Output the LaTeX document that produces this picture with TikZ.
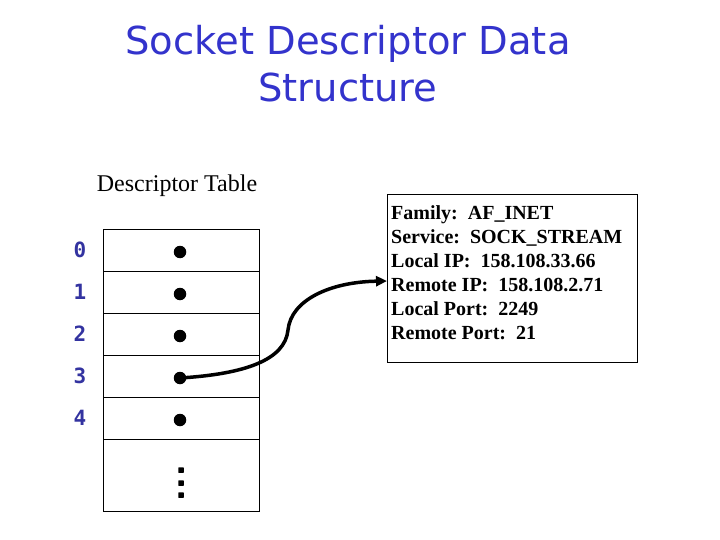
\documentclass[tikz,border=0pt]{standalone}
\usepackage{fontspec}
\usetikzlibrary{arrows.meta}
\setmainfont{Liberation Serif}
\newfontfamily\titlefont{DejaVu Sans}
\newfontfamily\digitfont{DejaVu Sans Mono}
\definecolor{titleblue}{RGB}{51,51,204}
\definecolor{digitblue}{RGB}{51,51,160}
\tikzset{
  cell/.style={draw, line width=1pt, minimum width=156pt, minimum height=42pt, inner sep=0pt, anchor=north west},
  idx/.style={font=\digitfont\bfseries\fontsize{21}{21}\selectfont, text=digitblue},
  bigdot/.style={circle, fill=black, inner sep=0pt, minimum size=12.5pt},
  smalldot/.style={rectangle, fill=black, inner sep=0pt, minimum size=5.5pt, rounded corners=0.5pt},
  infobox/.style={draw, line width=1pt, minimum width=250pt, minimum height=168pt, inner sep=0pt, anchor=north west},
}
\begin{document}
\begin{tikzpicture}[x=1pt,y=-1pt]
\useasboundingbox (0,0) rectangle (720,540);
% title
\node[font=\titlefont\fontsize{38.5}{47}\selectfont, text=titleblue, align=center] (title) at (348,64) {Socket Descriptor Data\\Structure};
\node[font=\fontsize{24}{28}\selectfont] (dtlabel) at (177,186) {Descriptor Table};
% table
\node[cell] (r0) at (103,229) {};
\node[cell] (r1) at (103,271) {};
\node[cell] (r2) at (103,313) {};
\node[cell] (r3) at (103,355) {};
\node[cell] (r4) at (103,397) {};
\node[cell, minimum height=72pt] (r5) at (103,439) {};
% indices
\node[idx] (i0) at (80,250) {0};
\node[idx] (i1) at (80,292) {1};
\node[idx] (i2) at (80,334) {2};
\node[idx] (i3) at (80,376) {3};
\node[idx] (i4) at (80,418) {4};
% dots
\node[bigdot] (d0) at (180,252) {};
\node[bigdot] (d1) at (180,294) {};
\node[bigdot] (d2) at (180,336) {};
\node[bigdot] (d3) at (180,378) {};
\node[bigdot] (d4) at (180,420) {};
\node[smalldot] (s1) at (181,470) {};
\node[smalldot] (s2) at (181,483) {};
\node[smalldot] (s3) at (181,495) {};
% info box
\node[infobox] (info) at (387,194) {};
\node[anchor=north west, align=left, inner sep=0pt, font=\bfseries\fontsize{20}{24}\selectfont] (infotext) at (391,205) {Family:\ \ AF\_INET\\
Service:\ \ SOCK\_STREAM\\
Local IP:\ \ 158.108.33.66\\
Remote IP:\ \ 158.108.2.71\\
Local Port:\ \ 2249\\
Remote Port:\ \ 21};
\coordinate (target) at (387,281);
\draw[line width=3.5pt, -{Triangle[length=11pt,width=10pt]}] (d3.center) .. controls (245,374) and (285,360) .. (288,330) .. controls (291,300) and (330,282) .. (target);
\end{tikzpicture}
\end{document}
